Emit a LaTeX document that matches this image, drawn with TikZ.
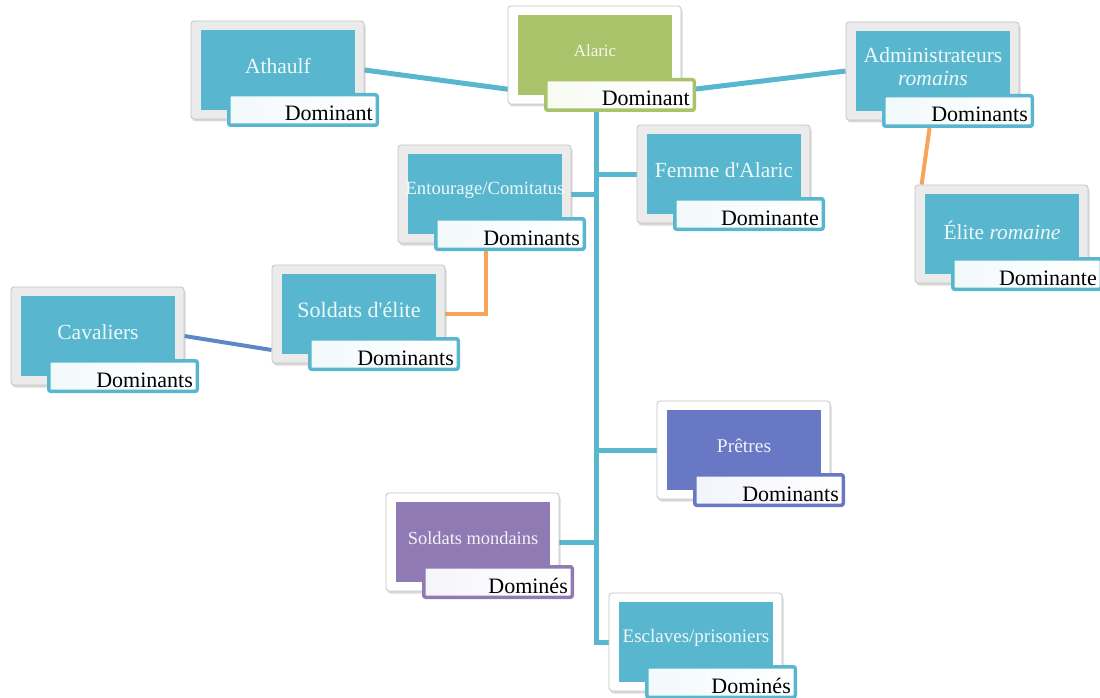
\documentclass[tikz,border=0pt]{standalone}
\usepackage{fontspec}
\setmainfont{Liberation Serif}
\usetikzlibrary{shadows,backgrounds,calc}
\definecolor{cy}{HTML}{58B7CE}
\definecolor{gr}{HTML}{A9C36A}
\definecolor{ind}{HTML}{6878C4}
\definecolor{pur}{HTML}{8F7AB3}
\definecolor{orng}{HTML}{F7A657}
\definecolor{bl}{HTML}{5A88C8}
\definecolor{framegray}{HTML}{EBEBEB}
\definecolor{frameline}{HTML}{C4C4C4}
\tikzset{
  frame/.style={draw=frameline, line width=0.8pt, rounded corners=3pt,
    minimum width=173pt, minimum height=98pt, inner sep=0pt,
    drop shadow={shadow xshift=1.5pt, shadow yshift=-2.5pt, opacity=0.3}},
  innerbox/.style={minimum width=154pt, minimum height=80pt, inner sep=0pt},
  lbl/.style={line width=3.5pt, rounded corners=2pt, minimum width=148.5pt,
    minimum height=30.5pt, inner sep=0pt,
    drop shadow={shadow xshift=1pt, shadow yshift=-1.5pt, opacity=0.2}},
  lbltext/.style={inner sep=0pt, font=\fontsize{22}{24}\selectfont, text=black},
  maintext/.style={inner sep=0pt, text=white, text opacity=0.9, align=center},
  conn/.style={line width=5pt, draw=cy},
}
% #1 id, #2 x, #3 y (top-left), #4 colour, #5 frame fill, #6 font size, #7 text, #8 label
\newcommand\orgbox[8]{%
  \node[frame, fill=#5] (#1F) at ({#2+86.5},{#3+49}) {};
  \node[innerbox, fill=#4] (#1I) at ({#2+87},{#3+49}) {};
  \node[lbl, draw=#4, left color=#4!8!white, right color=white] (#1L) at ({#2+112},{#3+89}) {};
  \node[lbltext, anchor=base east] (#1D) at ({#2+182},{#3+100}) {#8};
  \node[maintext, font=\fontsize{#6}{23}\selectfont] (#1T) at ({#2+87},{#3+45}) {#7};
}
\begin{document}
\begin{tikzpicture}[x=1pt, y=-1pt]
\useasboundingbox (0,0) rectangle (1100,698);
\orgbox{ath}{191}{21}{cy}{framegray}{21.5}{Athaulf}{Dominant}
\orgbox{ala}{508}{6}{gr}{white}{17}{Alaric}{Dominant}
\orgbox{adm}{846}{22}{cy}{framegray}{21.5}{Administrateurs\\\textit{romains}}{Dominants}
\orgbox{ent}{398}{145}{cy}{framegray}{18.7}{Entourage/Comitatus}{Dominants}
\orgbox{fem}{637}{125}{cy}{framegray}{21.5}{Femme d\textquotesingle Alaric}{Dominante}
\orgbox{eli}{915}{185}{cy}{framegray}{21.5}{Élite \textit{romaine}}{Dominante}
\orgbox{sol}{272}{265}{cy}{framegray}{22}{Soldats d\textquotesingle élite}{Dominants}
\orgbox{cav}{11}{287}{cy}{framegray}{21.5}{Cavaliers}{Dominants}
\orgbox{pre}{657}{401}{ind}{white}{19.5}{Prêtres}{Dominants}
\orgbox{mon}{386}{493}{pur}{white}{18.4}{Soldats mondains}{Dominés}
\orgbox{esc}{609}{593}{cy}{white}{19}{Esclaves/prisoniers}{Dominés}
\coordinate (root) at (596,101);
\begin{scope}[on background layer]
  \draw[conn] (athF.east) -- (root);
  \draw[conn] (root) -- (admF.west);
  \draw[conn] (root) |- (escF.west);
  \draw[conn] (femF.west) -- (femF.west -| root);
  \draw[conn] (entF.east) -- (entF.east -| root);
  \draw[conn] (preF.west) -- (preF.west -| root);
  \draw[conn] (monF.east) -- (monF.east -| root);
  \draw[conn, draw=orng, line width=4pt] ($(admF.south west)+(85,0)$) -- ($(eliF.north west)+(7,0)$);
  \draw[conn, draw=orng, line width=4pt] ($(entF.south west)+(88,0)$) |- (solF.east);
  \draw[conn, draw=bl, line width=4pt] (cavF.east) -- ($(solF.west)+(0,36)$);
\end{scope}
\end{tikzpicture}
\end{document}
